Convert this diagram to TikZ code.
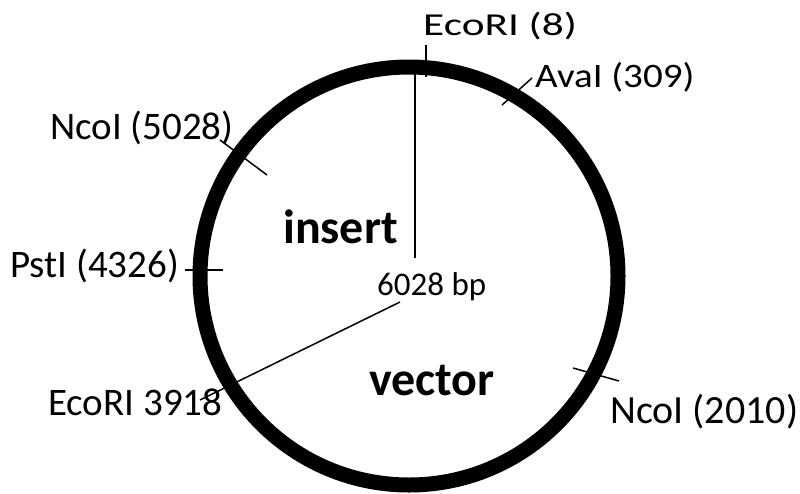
\documentclass[tikz,border=0pt]{standalone}
\usepackage{fontspec}
\setmainfont{Carlito}
\begin{document}
\begin{tikzpicture}[x=1pt,y=-1pt,
  lab/.style={anchor=base west,inner sep=0pt,font=\fontsize{39}{46}\selectfont},
  big/.style={anchor=base west,inner sep=0pt,font=\fontsize{48}{56}\selectfont\bfseries},
  thin/.style={line width=1.5pt},
  mid/.style={line width=2.2pt}]
\useasboundingbox (0,0) rectangle (800,493);
% plasmid ring
\coordinate (c) at (409,276);
\draw[line width=15pt] (c) circle[radius=209];
% inner lines
\coordinate (v1) at (415,258);
\coordinate (v2) at (415,62);
\draw[mid] (v1) -- (v2);
\coordinate (e1) at (400,302);
\coordinate (e2) at (200,400);
\draw[thin] (e1) -- (e2);
% site ticks
\coordinate (t1a) at (426,45); \coordinate (t1b) at (426,77);
\draw[mid] (t1a) -- (t1b);
\coordinate (t2a) at (502,105); \coordinate (t2b) at (532,78);
\draw[thin] (t2a) -- (t2b);
\coordinate (t3a) at (220,140); \coordinate (t3b) at (267,175);
\draw[thin] (t3a) -- (t3b);
\coordinate (t4a) at (185,270); \coordinate (t4b) at (223,270);
\draw[mid] (t4a) -- (t4b);
\coordinate (t5a) at (573,368); \coordinate (t5b) at (619,381);
\draw[thin] (t5a) -- (t5b);
% labels
\node[lab,xscale=1.11,yscale=0.82,transform shape] (l1) at (423,35) {EcoRI (8)};
\node[lab,yscale=0.88,transform shape] (l2) at (535,87) {AvaI (309)};
\node[lab] (l3) at (50,139) {NcoI (5028)};
\node[lab] (l4) at (10,277) {PstI (4326)};
\node[lab] (l5) at (48,415) {EcoRI 3918};
\node[lab,font=\fontsize{40}{47}\selectfont] (l6) at (610,423) {NcoI (2010)};
\node[big] (ins) at (283,243) {insert};
\node[big] (vec) at (369,395) {vector};
\node[anchor=base west,inner sep=0pt,font=\fontsize{33}{40}\selectfont] (bp) at (377,295) {6028 bp};
\end{tikzpicture}
\end{document}
